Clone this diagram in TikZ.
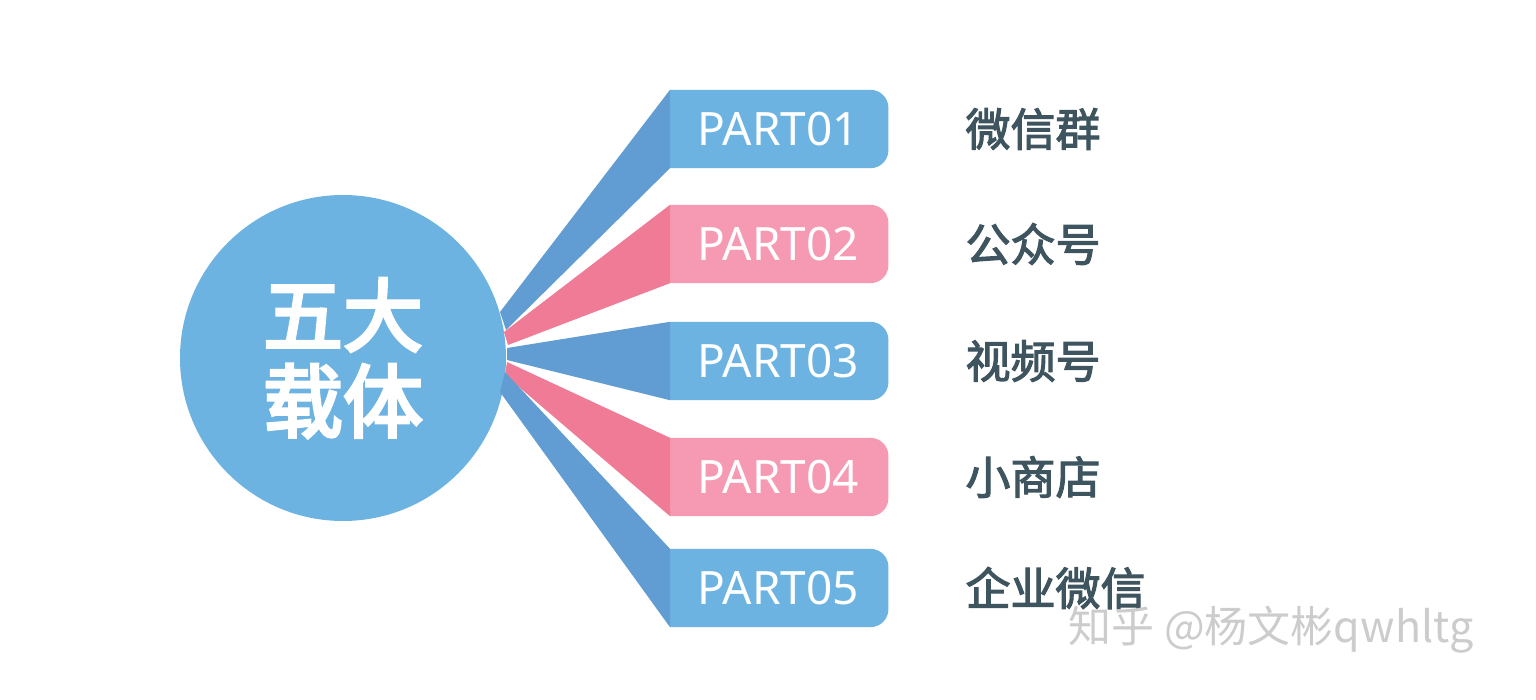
\documentclass[tikz,border=0pt]{standalone}
\usepackage{fontspec}
\newfontfamily\cjk{Noto Sans CJK SC}
\newfontfamily\cjkb{Noto Sans CJK SC}[FakeBold=2.5]
\newfontfamily\cjkbb{Noto Sans CJK SC}[FakeBold=4]
\newfontfamily\lat{Noto Sans}
\definecolor{bl}{HTML}{6DB3E2}
\definecolor{bld}{HTML}{619DD2}
\definecolor{pk}{HTML}{F59AB2}
\definecolor{pkd}{HTML}{F07B96}
\definecolor{tx}{HTML}{3E5560}
\begin{document}
\begin{tikzpicture}[x=1pt,y=-1pt,
  part/.style={minimum width=218pt,minimum height=78pt,anchor=west,inner sep=0pt},
  lbl/.style={anchor=west,text=tx,font=\cjkb\fontsize{45}{45}\selectfont}]
\useasboundingbox (0,0) rectangle (1536,700);
\node[circle,fill=bl,minimum size=326pt,inner sep=0pt] (c) at (343,358) {};
\node[text=white,font=\cjkbb\fontsize{80}{86}\selectfont,align=center] (ct) at (c) {五大\\载体};
\foreach \i/\y/\f/\d/\t/\ax/\ay/\bx/\by in {1/129/bl/bld/微信群/500/312/506/330,2/244/pk/pkd/公众号/504/332/508/345,3/361/bl/bld/视频号/507/348/507/360,4/477/pk/pkd/小商店/507/362/505/375,5/588/bl/bld/企业微信/505/372/500/392}{
  \node[part] (p\i) at (670,\y) {};
  \fill[\f] (p\i.south west) -- (p\i.north west) [rounded corners=18pt] -- (p\i.north east) -- (p\i.south east) [sharp corners] -- cycle;
  \node[text=white,font=\lat\fontsize{46}{46}\selectfont] (pt\i) at (778,\y) {PART0\i};
  \fill[\d] (\ax,\ay) -- (p\i.north west) -- (p\i.south west) -- (\bx,\by) -- cycle;
  \node[lbl] (l\i) at (962,\y) {\t};
}
\node[anchor=west,text=black!20,font=\cjk\fontsize{43}{43}\selectfont] (wm) at (1065,630) {知乎 @杨文彬qwhltg};
\end{tikzpicture}
\end{document}
